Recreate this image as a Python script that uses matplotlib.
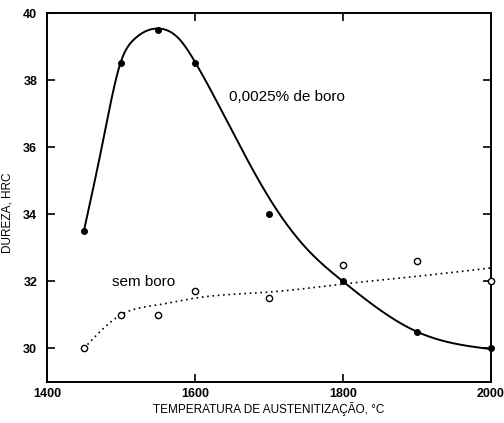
import matplotlib
matplotlib.use("Agg")
import matplotlib.pyplot as plt
import numpy as np

plt.rcParams['font.family'] = ['Liberation Sans', 'DejaVu Sans']

# temperatura de austenitização (°C) e dureza medida (HRC)
temp = [1450, 1500, 1550, 1600, 1700, 1800, 1900, 2000]
dureza_boro = [33.5, 38.5, 39.5, 38.5, 34.0, 32.0, 30.5, 30.0]
dureza_sem = [30.0, 31.0, 31.0, 31.7, 31.5, 32.5, 32.6, 32.0]

# curvas ajustadas (traçadas à mão no gráfico original)
ajuste_boro_x = [1450, 1476, 1500, 1517, 1549, 1580, 1600, 1650, 1700,
                 1750, 1800, 1850, 1900, 1950, 2000]
ajuste_boro_y = [33.5, 36.2, 38.55, 39.2, 39.54, 39.2, 38.55, 36.5, 34.5,
                 33.0, 32.0, 31.15, 30.5, 30.15, 29.98]
ajuste_sem_x = [1450, 1500, 1550, 1600, 1700, 1800, 1900, 2000]
ajuste_sem_y = [30.0, 31.0, 31.3, 31.5, 31.68, 31.92, 32.15, 32.4]

xticks = [1400, 1600, 1800, 2000]
yticks = [30, 32, 34, 36, 38, 40]


def spline(xs, ys, n=400):
    # spline cúbica natural
    x = np.asarray(xs, float)
    y = np.asarray(ys, float)
    k = len(x)
    h = np.diff(x)
    A = np.zeros((k, k))
    b = np.zeros(k)
    A[0, 0] = A[-1, -1] = 1
    for i in range(1, k - 1):
        A[i, i - 1] = h[i - 1]
        A[i, i] = 2 * (h[i - 1] + h[i])
        A[i, i + 1] = h[i]
        b[i] = 3 * ((y[i + 1] - y[i]) / h[i] - (y[i] - y[i - 1]) / h[i - 1])
    c = np.linalg.solve(A, b)
    xx = np.linspace(x[0], x[-1], n)
    idx = np.clip(np.searchsorted(x, xx) - 1, 0, k - 2)
    dx = xx - x[idx]
    bb = (y[idx + 1] - y[idx]) / h[idx] - h[idx] * (2 * c[idx] + c[idx + 1]) / 3
    dd = (c[idx + 1] - c[idx]) / (3 * h[idx])
    return xx, y[idx] + bb * dx + c[idx] * dx ** 2 + dd * dx ** 3


fig = plt.figure(figsize=(5.04, 4.23), dpi=100)
ax = fig.add_axes([0.093, 0.097, 0.881, 0.872])

bx, by = spline(ajuste_boro_x, ajuste_boro_y)
ax.plot(bx, by, color='black', lw=1.4, clip_on=False)
ax.plot(temp, dureza_boro, 'o', color='black', ms=4, clip_on=False, zorder=3)

sx, sy = spline(ajuste_sem_x, ajuste_sem_y)
ax.plot(sx, sy, color='black', lw=1.2, linestyle=(0, (1, 2.2)), clip_on=False)
ax.plot(temp, dureza_sem, 'o', mfc='white', mec='black', mew=1.0, ms=4.5,
        clip_on=False, zorder=3)

ax.text(1646, 37.49, '0,0025% de boro', fontsize=11, va='center', ha='left')
ax.text(1488, 31.97, 'sem boro', fontsize=11, va='center', ha='left')

ax.set_xlim(1400, 2000)
ax.set_ylim(29, 40)
ax.set_xticks(xticks)
ax.set_yticks(yticks)
ax.tick_params(direction='in', top=True, right=True, length=6, width=1.2,
               labelsize=9)
ax.tick_params(axis='x', pad=4)
ax.tick_params(axis='y', pad=7)
for lab in ax.get_xticklabels() + ax.get_yticklabels():
    lab.set_fontweight('bold')
for s in ax.spines.values():
    s.set_linewidth(1.4)

ax.set_xlabel('TEMPERATURA DE AUSTENITIZAÇÃO, °C', fontsize=8.5, labelpad=1.5)
ax.set_ylabel('DUREZA, HRC', fontsize=8.5)
ax.yaxis.set_label_coords(-0.076, 0.458)

fig.savefig('out.png', dpi=100)
